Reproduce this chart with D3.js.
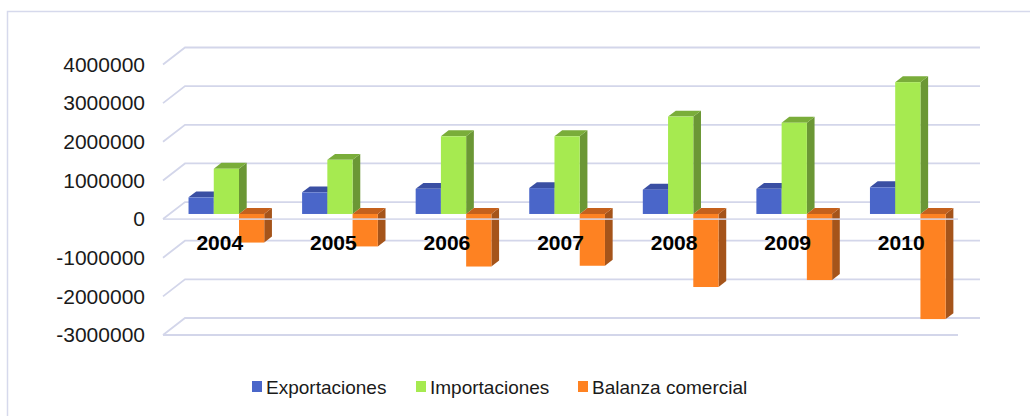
<!DOCTYPE html>
<html>
<head>
<meta charset="utf-8">
<script src="https://cdn.jsdelivr.net/npm/d3@7"></script>
<style>
  html, body { margin: 0; padding: 0; background: #fff; }
  svg { display: block; font-family: "Liberation Sans", Arial, sans-serif; }
</style>
</head>
<body>
<svg id="chart" width="1030" height="416"></svg>
<script>
// ---- data ----
const years = ["2004", "2005", "2006", "2007", "2008", "2009", "2010"];
const exportaciones = [430000, 560000, 650000, 670000, 630000, 650000, 690000];
const importaciones = [1170000, 1400000, 2010000, 2010000, 2520000, 2360000, 3410000];
const balanza = [-740000, -840000, -1360000, -1340000, -1890000, -1710000, -2720000];
const seriesNames = ["Exportaciones", "Importaciones", "Balanza comercial"];
const yTicks = [4000000, 3000000, 2000000, 1000000, 0, -1000000, -2000000, -3000000];

// ---- styles ----
const faceColors = [
  { front: "#4a66c9", top: "#3a4fa3", side: "#3a4f9e" },
  { front: "#a6ea50", top: "#7aad3a", side: "#6b9735" },
  { front: "#fe8222", top: "#c4601c", side: "#a5541a" }
];
const gridColor = "#d3d6ea";

const svg = d3.select("#chart");

// outer border (only left/top visible)
svg.append("rect").attr("x", 7.5).attr("y", 11.5).attr("width", 1040).attr("height", 430)
  .attr("fill", "none").attr("stroke", "#d6d9ec").attr("stroke-width", 1.5);

// scales (front plane)
const x0 = 163, x1 = 958;
const y = d3.scaleLinear().domain([-3000000, 4000000]).range([335, 64.5]);
const x = d3.scaleBand().domain(years).range([x0, x1]);
const groupW = x.bandwidth() / 1.5;
const xs = d3.scaleBand().domain(seriesNames).range([0, groupW]);

// depth projection
const DX = 22, DY = -17;
const P = (px, py, d) => [px + d * DX, py + d * DY];
const poly = pts => pts.map(p => p.join(",")).join(" ");

// gridlines: diagonal on left wall + horizontal on back wall
const grid = svg.append("g");
yTicks.forEach(t => {
  const yf = y(t);
  const a = P(x0, yf, 0), b = P(x0, yf, 1), c = P(x1, yf, 1);
  grid.append("polyline").attr("points", poly([a, b, c]))
    .attr("fill", "none").attr("stroke", gridColor).attr("stroke-width", 1.8);
});
// floor front edge
grid.append("line").attr("x1", x0).attr("x2", x1).attr("y1", y(-3000000)).attr("y2", y(-3000000))
  .attr("stroke", gridColor).attr("stroke-width", 1.8);

// y axis labels
const yAxis = d3.axisLeft(y).tickValues(yTicks).tickSize(0).tickPadding(18).tickFormat(d => String(d));
const ga = svg.append("g").attr("transform", `translate(${x0},0)`).call(yAxis);
ga.select(".domain").remove();
ga.selectAll("text").attr("font-size", 21).attr("fill", "#1a1a1a")
  .attr("font-family", "'Liberation Sans', Arial, sans-serif");

// bars
const dF = 0.3, dB = 0.65;
const allSeries = [exportaciones, importaciones, balanza];
const bars = svg.append("g");
years.forEach((yr, i) => {
  const gx = x(yr) + (x.bandwidth() - groupW) / 2;
  seriesNames.forEach((s, k) => {
    const v = allSeries[k][i];
    const L = gx + xs(s), R = L + xs.bandwidth();
    const yTop = y(Math.max(v, 0)), yBot = y(Math.min(v, 0));
    const col = faceColors[k];
    // side face (right)
    bars.append("polygon").attr("points", poly([P(R, yTop, dF), P(R, yTop, dB), P(R, yBot, dB), P(R, yBot, dF)]))
      .attr("fill", col.side);
    // top face
    bars.append("polygon").attr("points", poly([P(L, yTop, dF), P(L, yTop, dB), P(R, yTop, dB), P(R, yTop, dF)]))
      .attr("fill", col.top);
    // front face
    const f1 = P(L, yTop, dF), f2 = P(R, yBot, dF);
    bars.append("rect").attr("x", f1[0]).attr("y", f1[1]).attr("width", f2[0] - f1[0]).attr("height", f2[1] - f1[1])
      .attr("fill", col.front);
  });
});

// front zero axis line
svg.append("line").attr("x1", x0).attr("x2", x1).attr("y1", y(0)).attr("y2", y(0))
  .attr("stroke", gridColor).attr("stroke-width", 1.8).attr("opacity", 0.85);

// category labels
svg.append("g").selectAll("text").data(years).join("text")
  .attr("x", d => x(d) + x.bandwidth() / 2)
  .attr("y", 250)
  .attr("text-anchor", "middle")
  .attr("font-size", 21).attr("font-weight", "bold").attr("fill", "#000")
  .text(d => d);

// legend
const legendX = [252, 416, 578];
const lg = svg.append("g");
seriesNames.forEach((s, k) => {
  lg.append("rect").attr("x", legendX[k]).attr("y", 381).attr("width", 10).attr("height", 11)
    .attr("fill", faceColors[k].front);
  lg.append("text").attr("x", legendX[k] + 14).attr("y", 393.5)
    .attr("font-size", 19).attr("fill", "#1a1a1a").text(s);
});
</script>
</body>
</html>
